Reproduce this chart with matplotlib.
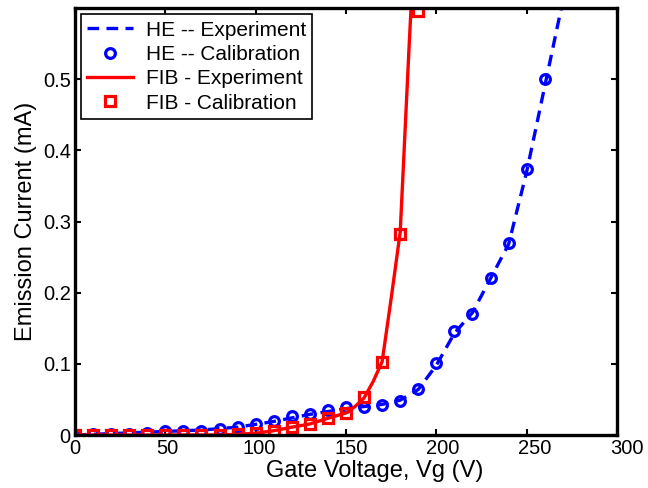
import matplotlib
matplotlib.use("Agg")
import matplotlib.pyplot as plt
import matplotlib.transforms as mtransforms

plt.rcParams["font.family"] = ["Liberation Sans", "DejaVu Sans"]

# HE tip: calibration points and measured curve
he_cal_v = [0, 10, 20, 30, 40, 50, 60, 70, 80, 90, 100, 110, 120, 130,
            140, 150, 160, 170, 180, 190, 200, 210, 220, 230, 240, 250, 260]
he_cal_i = [0.000, 0.001, 0.001, 0.002, 0.003, 0.005, 0.005, 0.006, 0.008,
            0.011, 0.016, 0.020, 0.026, 0.030, 0.035, 0.040, 0.039, 0.042,
            0.048, 0.064, 0.101, 0.146, 0.170, 0.221, 0.270, 0.374, 0.500]
he_exp_v = he_cal_v + [270]
he_exp_i = [0.000, 0.001, 0.002, 0.003, 0.004, 0.005, 0.006, 0.007, 0.009,
            0.011, 0.015, 0.019, 0.024, 0.029, 0.033, 0.037, 0.040, 0.043,
            0.049, 0.064, 0.098, 0.143, 0.172, 0.220, 0.268, 0.370, 0.490,
            0.610]

# FIB tip
fib_cal_v = [0, 10, 20, 30, 40, 50, 60, 70, 80, 90, 100, 110, 120, 130,
             140, 150, 160, 170, 180, 190]
fib_cal_i = [0.000, 0.000, 0.000, 0.000, 0.000, 0.000, 0.000, 0.000, 0.000,
             0.001, 0.0025, 0.006, 0.011, 0.0155, 0.0235, 0.031, 0.054,
             0.103, 0.283, 0.596]
fib_exp_v = [0, 10, 20, 30, 40, 50, 60, 70, 80, 90, 100, 110, 120, 130,
             140, 150, 155, 160, 165, 170, 175, 180, 185, 190]
fib_exp_i = [0.000, 0.000, 0.000, 0.000, 0.000, 0.000, 0.000, 0.000, 0.000,
             0.001, 0.0025, 0.006, 0.011, 0.0155, 0.0235, 0.031, 0.040,
             0.052, 0.075, 0.103, 0.192, 0.285, 0.550, 0.800]

x_ticks = [0, 50, 100, 150, 200, 250, 300]
y_ticks = [0, 0.1, 0.2, 0.3, 0.4, 0.5]
y_ticklabels = ["0", "0.1", "0.2", "0.3", "0.4", "0.5"]

fig = plt.figure(figsize=(6.48, 4.88), dpi=100)
ax = fig.add_axes([0.1157, 0.1086, 0.8365, 0.875])

ax.plot(he_exp_v, he_exp_i, "--", color="#0000FF", linewidth=2.4,
        dashes=(3.5, 2.2), label="HE -- Experiment")
ax.plot(he_cal_v, he_cal_i, "o", color="#0000FF", markerfacecolor="none",
        markersize=7, markeredgewidth=2.3, linestyle="none",
        label="HE -- Calibration")
ax.plot(fib_exp_v, fib_exp_i, "-", color="#FF0000", linewidth=2.4,
        label="FIB - Experiment")
ax.plot(fib_cal_v, fib_cal_i, "s", color="#FF0000", markerfacecolor="none",
        markersize=6.5, markeredgewidth=2.3, linestyle="none",
        label="FIB - Calibration")

ax.set_xlim(0, 300)
ax.set_ylim(0, 0.6)
ax.set_xticks(x_ticks)
ax.set_yticks(y_ticks)
ax.set_yticklabels(y_ticklabels)

for spine in ax.spines.values():
    spine.set_linewidth(2.4)
ax.tick_params(direction="in", top=True, right=True, length=4, width=1.5,
               labelsize=14.5, pad=3)

# the exported original has x labels drifting slightly to the right
for lbl, v in zip(ax.get_xticklabels(), x_ticks):
    shift = mtransforms.ScaledTranslation(v / 300 * 0.10, 0, fig.dpi_scale_trans)
    lbl.set_transform(lbl.get_transform() + shift)

ax.set_xlabel("Gate Voltage, Vg (V)", fontsize=17)
ax.xaxis.set_label_coords(0.553, -0.058)
ax.set_ylabel("Emission Current (mA)", fontsize=17, labelpad=4)

leg = ax.legend(loc="upper left", fontsize=15, frameon=True, fancybox=False,
                edgecolor="black", framealpha=1, borderpad=0.3,
                labelspacing=0.26, handlelength=2.2, handletextpad=0.6,
                borderaxespad=0.3)
leg.get_frame().set_linewidth(1.2)

fig.savefig("out.png", dpi=100)
